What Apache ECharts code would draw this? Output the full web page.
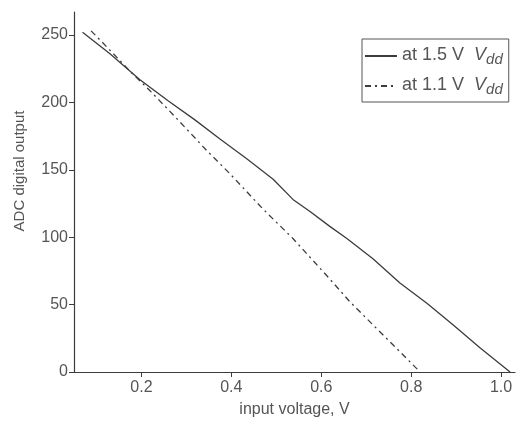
<!DOCTYPE html>
<html>
<head>
<meta charset="utf-8">
<script src="https://cdn.jsdelivr.net/npm/echarts@6/dist/echarts.min.js"></script>
<style>
  html, body { margin: 0; padding: 0; background: #fff; }
  #chart { width: 519px; height: 423px; }
</style>
</head>
<body>
<div id="chart"></div>
<script>
// curve at 1.5 V Vdd (solid)
var vdd15X = [0.069, 0.13, 0.196, 0.26, 0.319, 0.374, 0.435, 0.493, 0.537, 0.575, 0.619, 0.657, 0.715, 0.775, 0.835, 0.893, 0.953, 1.02];
var vdd15Y = [252, 236, 217, 201, 187, 173, 158, 143, 128, 119, 108, 99, 84, 66, 51, 35, 18, 0];
// curve at 1.1 V Vdd (dashed)
var vdd11X = [0.088, 0.129, 0.178, 0.218, 0.27, 0.346, 0.397, 0.47, 0.537, 0.619, 0.664, 0.715, 0.76, 0.82];
var vdd11Y = [253, 239, 222, 209, 191, 164, 147, 121, 99, 69, 52, 35, 20, 0];

var xTicks = [0.2, 0.4, 0.6, 0.8, 1.0];
var yTicks = [0, 50, 100, 150, 200, 250];
var seriesNames = ['at 1.5 V', 'at 1.1 V'];

function pairs(xs, ys) {
    return xs.map(function (x, i) { return [x, ys[i]]; });
}

var font = 'Liberation Sans, Arial, sans-serif';
var ink = '#3c3c3c';
var textCol = '#555';

var myChart = echarts.init(document.getElementById('chart'));
var option = {
    animation: false,
    backgroundColor: '#fff',
    grid: {
        left: 74,
        right: 4,
        top: 12,
        bottom: 49
    },
    legend: {
        orient: 'vertical',
        left: 362,
        top: 39,
        padding: [7, 6, 5, 2],
        borderColor: '#555',
        borderWidth: 1,
        itemWidth: 32,
        itemHeight: 10,
        itemGap: 9,
        itemStyle: { opacity: 0 },
        formatter: function (name) {
            return '{n|' + name + '  }{i|V}{s|dd}';
        },
        textStyle: {
            rich: {
                n: { fontFamily: font, fontSize: 18, color: textCol, verticalAlign: 'top', lineHeight: 20 },
                i: { fontFamily: font, fontSize: 18, color: textCol, fontStyle: 'italic', verticalAlign: 'top', lineHeight: 20 },
                s: { fontFamily: font, fontSize: 15, color: textCol, fontStyle: 'italic', verticalAlign: 'top', lineHeight: 20, padding: [6, 0, 0, 0] }
            }
        },
        data: seriesNames
    },
    xAxis: {
        type: 'value',
        min: 0.05,
        max: 1.031,
        name: 'input voltage, V',
        nameLocation: 'middle',
        nameGap: 30,
        nameTextStyle: { fontFamily: font, fontSize: 16, color: textCol },
        splitLine: { show: false },
        axisLine: { lineStyle: { color: ink, width: 1.2 } },
        axisTick: {
            inside: false,
            length: 5,
            customValues: xTicks,
            lineStyle: { color: ink }
        },
        axisLabel: {
            customValues: xTicks,
            fontFamily: font,
            fontSize: 16,
            color: textCol,
            margin: 8,
            formatter: function (v) { return v.toFixed(1); }
        }
    },
    yAxis: {
        type: 'value',
        min: 0,
        max: 267,
        name: 'ADC digital output',
        nameLocation: 'middle',
        nameGap: 47,
        nameTextStyle: { fontFamily: font, fontSize: 15, color: textCol, padding: [0, 0, 0, 42] },
        splitLine: { show: false },
        axisLine: { show: true, lineStyle: { color: ink, width: 1.2 } },
        axisTick: {
            show: true,
            length: 5,
            customValues: yTicks,
            lineStyle: { color: ink }
        },
        axisLabel: {
            customValues: yTicks,
            fontFamily: font,
            fontSize: 16,
            color: textCol,
            margin: 6
        }
    },
    series: [
        {
            name: seriesNames[0],
            type: 'line',
            symbol: 'none',
            data: pairs(vdd15X, vdd15Y),
            lineStyle: { color: ink, width: 1.3, type: 'solid' },
            itemStyle: { color: ink }
        },
        {
            name: seriesNames[1],
            type: 'line',
            symbol: 'none',
            data: pairs(vdd11X, vdd11Y),
            lineStyle: { color: ink, width: 1.3, type: [6, 4, 2, 4] },
            itemStyle: { color: ink }
        }
    ]
};
myChart.setOption(option);
</script>
</body>
</html>
